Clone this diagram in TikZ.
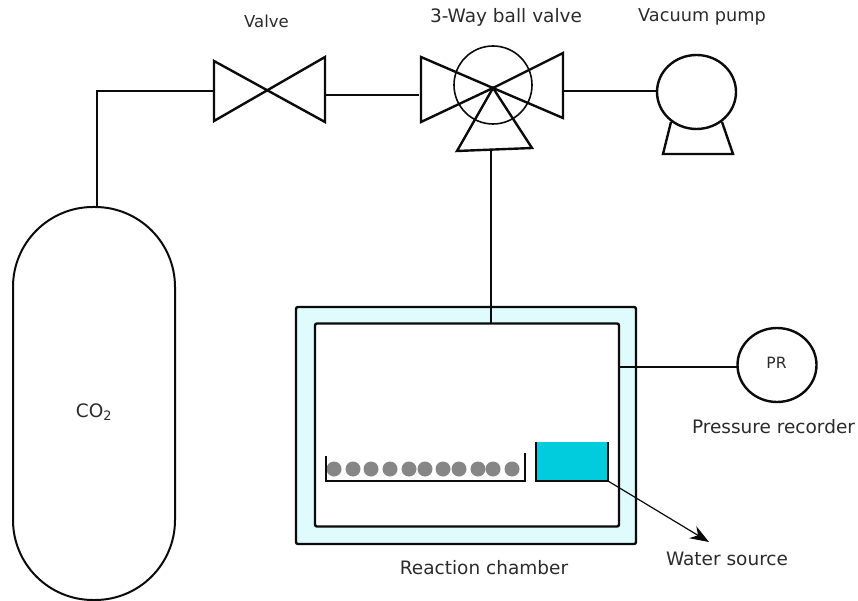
\documentclass[tikz,border=0pt]{standalone}
\usepackage{xcolor}
\usepackage{fontspec}
\setmainfont{DejaVu Sans}
\usetikzlibrary{arrows.meta, shapes.geometric}
\definecolor{ink}{HTML}{0B0B0B}
\definecolor{labelText}{HTML}{2B2B2B}
\definecolor{jacket}{HTML}{E0FBFB}
\definecolor{water}{HTML}{00CCDD}
\definecolor{pellet}{HTML}{868686}

\begin{document}
\begin{tikzpicture}[x=1pt, y=-1pt, font=\fontsize{18.5pt}{20pt}\selectfont, text=labelText]
    \tikzset{
      p/.style={line width=2.4pt, draw=ink, outer sep=0pt, inner sep=0pt},
      dial/.style={p, ellipse, fill=white, minimum width=79pt, minimum height=74pt},
      box/.style={p, rectangle, rounded corners=2pt},
      valve/.style={line width=2.4pt, draw=ink, line join=miter},
      pipe/.style={line width=2.4pt, draw=ink},
      ball/.style={circle, fill=pellet, minimum size=15pt, inner sep=0pt},
      f/.style={-{Stealth[length=19pt, width=14pt]}, line width=1.2pt, draw=ink}
    }
    \useasboundingbox (0,0) rectangle (858,601);
    % cylinder
    \node[p, line width=2pt, rectangle, rounded corners=80pt, minimum width=162pt, minimum height=393pt] (cyl) at (94,403.5) {};
    \node (co) at (94,412) {CO\textsubscript{2}};
    % chamber
    \node[box, fill=jacket, minimum width=340pt, minimum height=237pt] (jac) at (466,425.5) {};
    \node[box, fill=white, minimum width=304pt, minimum height=203pt] (cham) at (467,425) {};
    % pressure recorder
    \node[dial] (pr) at (777,365) {};
    \node[font=\fontsize{15.5pt}{17pt}\selectfont] (prt) at (776.5,363) {PR};
    % pump
    \node[dial] (pump) at (696.5,92) {};
    \draw[valve] (671,122) -- (663,154) -- (733,154) -- (722,122);
    % valve
    \coordinate (vLin) at (214,91);
    \coordinate (vRin) at (325,95);
    \draw[valve] (214,61) -- (325,122) -- (325,57) -- (214,121) -- cycle;
    % 3-way valve
    \coordinate (wc) at (493,88);
    \coordinate (wLin) at (419,95);
    \coordinate (wRin) at (563,91);
    \coordinate (wBin) at (491,150);
    \node[p, line width=1.6pt, circle, minimum size=78pt] (ballv) at (493,85) {};
    \draw[valve] (wc) -- (421,57) -- (421,122) -- cycle;
    \draw[valve] (wc) -- (563,53) -- (563,118) -- cycle;
    \draw[valve] (wc) -- (532,148) -- (457,151) -- cycle;
    % pipes
    \coordinate (elbow) at (97,91);
    \coordinate (prIn) at (737,367);
    \draw[pipe] (cyl.north -| elbow) -- (elbow) -- (vLin);
    \draw[pipe, line width=1.6pt] (vRin) -- (wLin);
    \draw[pipe] (wRin) -- (wRin -| pump.west);
    \draw[pipe] (wBin) -- (wBin |- cham.north);
    \draw[pipe] (cham.east |- prIn) -- (prIn);
    % pellets
    \foreach \x in {334,353,371,390,409,425,443,459,478,493,512}
      \node[ball] (b\x) at (\x,469) {};
    \draw[pipe] (326,456) -- (326,481) -- (525,481) -- (525,453);
    % water
    \node[rectangle, fill=water, minimum width=72pt, minimum height=39pt, inner sep=0pt, outer sep=0pt] (wat) at (572,461.5) {};
    \draw[pipe] (wat.north west) -- (wat.south west) -- (wat.south east) -- (wat.north east);
    \coordinate (head) at (709,542);
    \draw[f] (wat.south east) -- (head);
    % labels
    \node[font=\fontsize{16.5pt}{18pt}\selectfont] (lv) at (266.5,21) {Valve};
    \node (lw) at (506,17) {3-Way ball valve};
    \node[font=\fontsize{17.7pt}{19pt}\selectfont] (lp) at (702,17) {Vacuum pump};
    \node (lc) at (484,568) {Reaction chamber};
    \node (ls) at (727,559) {Water source};
    \node (lr) at (773.5,427) {Pressure recorder};
  \end{tikzpicture}
\end{document}
